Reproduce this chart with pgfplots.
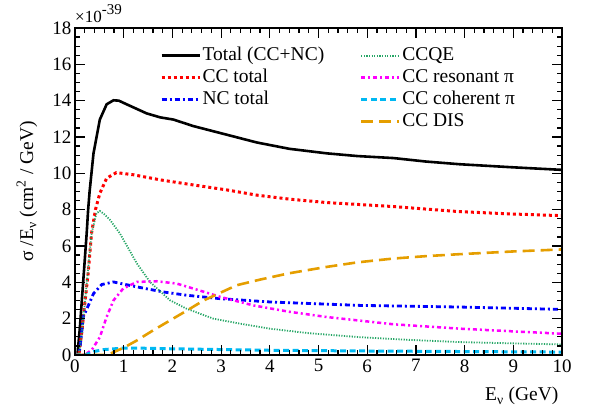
\documentclass[border=0pt]{standalone}
\usepackage{fontspec}
\setmainfont{Liberation Serif}
\usepackage{pgfplots}
\pgfplotsset{compat=1.18}
\definecolor{cqe}{rgb}{0.15,0.65,0.4}
\definecolor{cres}{rgb}{1,0,1}
\definecolor{ccoh}{rgb}{0,0.72,0.95}
\definecolor{cdis}{rgb}{0.9,0.62,0}
\begin{document}
\begin{tikzpicture}
\path (-75pt,-56pt) rectangle (514pt,355pt);
\begin{axis}[
  scale only axis, width=487pt, height=327pt,
  xmin=0, xmax=10, ymin=0, ymax=18,
  xtick={0,1,...,10}, ytick={0,2,...,18},
  minor xtick={0,0.2,...,10}, minor ytick={0,0.5,...,18},
  xtick align=inside, ytick align=inside,
  xtick pos=both, ytick pos=both,
  tickwidth=10pt, subtickwidth=5pt,
  axis on top,
  axis line style={line width=1.3pt},
  major tick style={draw=black, line width=1.2pt},
  minor tick style={draw=black, line width=1.2pt},
  xticklabel={\rmfamily\pgfmathprintnumber[assume math mode=true]{\tick}},
  yticklabel={\rmfamily\pgfmathprintnumber[assume math mode=true]{\tick}},
  tick label style={font=\rmfamily\fontsize{19}{22}\selectfont},
  xticklabel style={yshift=-1pt},
  label style={font=\rmfamily\fontsize{19.5}{23}\selectfont},
  xlabel={E\textsubscript{ν} (GeV)},
  xlabel style={at={(rel axis cs:1,0)}, anchor=base east, yshift=-46pt},
  ylabel={σ /E\textsubscript{ν} (cm\textsuperscript{2} / GeV)},
  ylabel style={at={(axis description cs:-0.0986,0.5)}, anchor=center},
  legend columns=2,
  legend style={at={(rel axis cs:0.168,0.955)}, anchor=north west, draw=none, fill=none,
    font=\fontsize{19.5}{23}\selectfont,
    nodes={text height=14pt, text depth=4.5pt, inner sep=1.5pt, anchor=west},
    /tikz/every even column/.append style={column sep=34pt},
    row sep=0.5pt},
  legend cell align=left,
  legend image code/.code={\draw[#1] (0pt,0pt) -- (38pt,0pt);},
]
% Total
\addplot[black, line width=2.6pt, forget plot] coordinates {
(0,0)(0.05,0)(0.1,1.5)(0.17,4.1)(0.24,6.7)(0.27,8.0)(0.3,9.0)(0.38,11.1)(0.51,12.96)(0.65,13.8)(0.79,14.02)(0.9,14.0)(1.06,13.8)(1.47,13.3)(1.75,13.08)(2.02,12.96)(2.43,12.6)(3.11,12.13)(3.73,11.7)(4.4,11.35)(5.17,11.1)(5.8,10.95)(6.54,10.84)(7.2,10.65)(7.9,10.5)(9,10.33)(10,10.19)};
% CC total
\addplot[red, line width=3pt, dash pattern=on 3pt off 3pt, forget plot] coordinates {
(0,0)(0.08,0)(0.15,1.5)(0.2,2.8)(0.27,4.5)(0.34,6.7)(0.42,8.0)(0.51,8.9)(0.65,9.73)(0.85,10.04)(1.2,9.92)(1.75,9.64)(2.43,9.36)(3.11,9.09)(3.73,8.8)(4.4,8.58)(5.17,8.39)(6.54,8.17)(7.9,7.89)(9,7.76)(10,7.67)};
% NC total
\addplot[blue, line width=2.8pt, dash pattern=on 5pt off 3pt on 2pt off 3pt, forget plot] coordinates {
(0,0)(0.08,0)(0.12,0.8)(0.17,2.1)(0.27,2.7)(0.38,3.38)(0.55,3.88)(0.79,4.02)(1.27,3.75)(1.81,3.47)(2.29,3.29)(2.98,3.1)(4.0,2.92)(5.85,2.73)(7.9,2.64)(10,2.51)};
% CCQE
\addplot[cqe, line width=1.8pt, dash pattern=on 1.2pt off 1.4pt, forget plot] coordinates {
(0,0)(0.08,0)(0.14,1.2)(0.24,3.9)(0.34,6.7)(0.44,7.8)(0.51,7.93)(0.6,7.75)(0.72,7.43)(0.92,6.7)(1.1,5.85)(1.27,5.04)(1.54,4.02)(1.95,3.01)(2.29,2.55)(2.84,2.0)(3.4,1.72)(4.0,1.45)(4.8,1.2)(5.85,0.98)(6.8,0.84)(7.9,0.71)(9,0.64)(10,0.58)};
% CC resonant
\addplot[cres, line width=2.5pt, dash pattern=on 4pt off 3pt on 2pt off 3pt, forget plot] coordinates {
(0,0)(0.2,0)(0.35,0.3)(0.51,0.98)(0.65,2.1)(0.79,3.0)(0.99,3.66)(1.27,4.02)(1.68,4.06)(2.09,3.93)(2.5,3.6)(2.98,3.2)(3.66,2.73)(4.4,2.38)(5.17,2.09)(6.54,1.69)(7.9,1.45)(9,1.3)(10,1.17)};
% CC coherent
\addplot[ccoh, line width=3pt, dash pattern=on 6pt off 3.5pt, forget plot] coordinates {
(0,0)(0.2,0)(0.4,0.2)(0.6,0.3)(1.0,0.38)(1.5,0.37)(2,0.34)(3,0.3)(4,0.26)(6,0.22)(8,0.19)(10,0.16)};
% CC DIS
\addplot[cdis, line width=2.6pt, dash pattern=on 12pt off 6pt, forget plot] coordinates {
(0,0)(0.6,0)(0.72,0.07)(1.0,0.4)(1.27,0.8)(1.6,1.35)(1.95,1.9)(2.3,2.45)(2.64,3.0)(3.32,3.84)(3.8,4.15)(4.4,4.5)(5.17,4.85)(5.8,5.1)(6.54,5.31)(7.2,5.44)(7.9,5.55)(9,5.7)(10,5.81)};
% legend
\addlegendimage{black, line width=2.6pt}
\addlegendentry{Total (CC+NC)}
\addlegendimage{cqe, line width=1.8pt, dash pattern=on 1.2pt off 1.4pt}
\addlegendentry{CCQE}
\addlegendimage{red, line width=3pt, dash pattern=on 3pt off 3pt}
\addlegendentry{CC total}
\addlegendimage{cres, line width=2.5pt, dash pattern=on 4pt off 3pt on 2pt off 3pt}
\addlegendentry{CC resonant π}
\addlegendimage{blue, line width=2.8pt, dash pattern=on 5pt off 3pt on 2pt off 3pt}
\addlegendentry{NC total}
\addlegendimage{ccoh, line width=3pt, dash pattern=on 6pt off 3.5pt}
\addlegendentry{CC coherent π}
\addlegendimage{empty legend}
\addlegendentry{}
\addlegendimage{cdis, line width=2.6pt, dash pattern=on 12pt off 6pt}
\addlegendentry{CC DIS}
\end{axis}
\node[anchor=base west, font=\fontsize{17}{18}\selectfont, inner sep=0pt] at ([yshift=5pt]current axis.north west) {×10\raisebox{8pt}{\fontsize{15}{15}\selectfont -39}};
\end{tikzpicture}
\end{document}
